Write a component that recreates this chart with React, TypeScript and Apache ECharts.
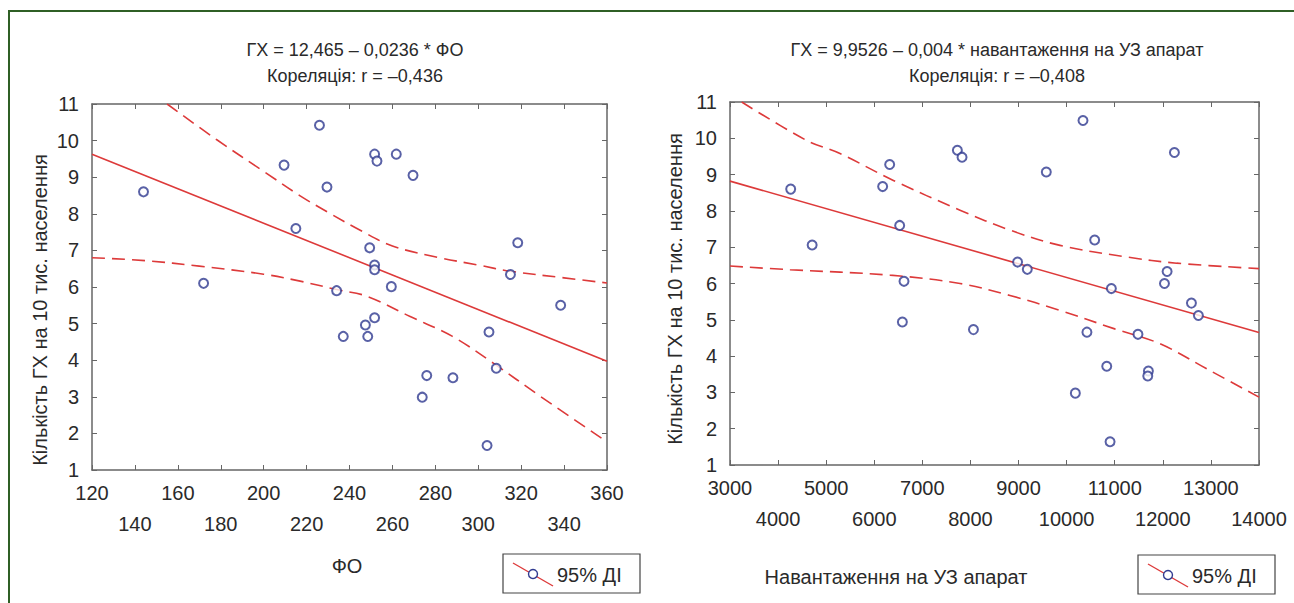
import React, { useEffect, useRef } from "react";
import * as echarts from "echarts";

// ---- Left chart: ФО ----
const foX = [144, 172, 209.5, 215, 226, 229.5, 251.7, 252.8, 261.8, 269.6, 249.4, 251.7, 251.7, 234, 259.5, 318.4, 315, 338.4, 305, 251.7, 247.4, 237.1, 248.5, 308.4, 276, 288.2, 273.9, 304.1];
const foY = [8.6, 6.1, 9.33, 7.6, 10.42, 8.73, 9.63, 9.44, 9.63, 9.05, 7.07, 6.6, 6.47, 5.9, 6.01, 7.21, 6.34, 5.5, 4.77, 5.16, 4.96, 4.65, 4.65, 3.78, 3.58, 3.52, 2.99, 1.67];
const foFit = [[120, 9.63], [360, 3.97]];
const foUpper = [[155, 11], [178, 10.03], [201, 9.12], [217, 8.49], [230, 8.04], [245, 7.55], [260, 7.12], [282, 6.8], [300, 6.6], [315, 6.43], [340, 6.25], [360, 6.11]];
const foLower = [[120, 6.8], [145, 6.72], [170, 6.57], [200, 6.35], [217, 6.16], [234, 5.93], [248, 5.75], [268, 5.2], [288, 4.65], [307, 3.92], [329, 3.01], [358, 1.85]];

// ---- Right chart: навантаження на УЗ апарат ----
const uzX = [4262, 4708, 6174, 6320, 6528, 6618, 6584, 7728, 7825, 10340, 12241, 9577, 10583, 8980, 9182, 10930, 12089, 12034, 12595, 12740, 8062, 10422, 11483, 10834, 11700, 11687, 10181, 10903];
const uzY = [8.6, 7.06, 8.67, 9.28, 7.6, 6.06, 4.94, 9.67, 9.48, 10.49, 9.61, 9.07, 7.2, 6.59, 6.39, 5.86, 6.33, 6.0, 5.46, 5.12, 4.73, 4.66, 4.6, 3.72, 3.59, 3.45, 2.98, 1.64];
const uzFit = [[3000, 8.82], [14000, 4.65]];
const uzUpper = [[3243, 11], [4595, 9.94], [5287, 9.58], [6397, 8.84], [7783, 8.02], [8822, 7.47], [9862, 7.05], [11248, 6.73], [12288, 6.56], [14000, 6.41]];
const uzLower = [[3000, 6.48], [4248, 6.38], [6327, 6.23], [7783, 6.0], [8822, 5.67], [9862, 5.26], [11000, 4.75], [11942, 4.34], [12981, 3.6], [14000, 2.87]];

// ---- Axis ranges / texts ----
const foAxis = { min: 120, max: 360, interval: 20 };
const uzAxis = { min: 3000, max: 14000, interval: 1000 };
const yAxisRange = { min: 1, max: 11, interval: 1 };
const leftTitle = "ГХ = 12,465 – 0,0236 * ФО\nКореляція: r = –0,436";
const rightTitle = "ГХ = 9,9526 – 0,004 * навантаження на УЗ апарат\nКореляція: r = –0,408";
const yName = "Кількість ГХ на 10 тис. населення";
const leftXName = "ФО";
const rightXName = "Навантаження на УЗ апарат";
const legendText = "95% ДІ";

const FONT = "'Liberation Sans Narrow', 'Arial Narrow', 'Liberation Sans', sans-serif";
const TXT = "#2a2a2a";
const RED = "#dd3a3a";
const BLUE = "#2f3a90";
const AXC = "#666";

function zip(xs: number[], ys: number[]) {
  return xs.map((x, i) => [x, ys[i]]);
}

export default function App() {
  const ref = useRef<HTMLDivElement>(null);
  useEffect(() => {
    if (!ref.current) return;
    const chart = echarts.init(ref.current, null, { renderer: "svg" });

    const grids = [
      { left: 92, top: 104, width: 515, height: 366 },
      { left: 730, top: 102, width: 529, height: 363 },
    ];
    const xr = [foAxis, uzAxis];

    const xAxes: any[] = [];
    const yAxes: any[] = [];
    [0, 1].forEach((g) => {
      // main bottom axis: even-index labels (first row)
      xAxes.push({
        type: "value", gridIndex: g, ...xr[g], position: "bottom",
        axisLine: { show: true, lineStyle: { color: AXC, width: 1.5 } },
        axisTick: { show: true, inside: true, length: 5, lineStyle: { color: AXC } },
        splitLine: { show: false },
        axisLabel: {
          margin: 13, fontSize: 20, lineHeight: 20, color: TXT, fontFamily: FONT,
          showMinLabel: true, showMaxLabel: true, hideOverlap: false,
          formatter: (v: number, i: number) => (i % 2 === 0 ? String(v) : ""),
        },
      });
      // top frame axis
      xAxes.push({
        type: "value", gridIndex: g, ...xr[g], position: "top",
        axisLine: { show: true, lineStyle: { color: AXC, width: 1.5 } },
        axisTick: { show: true, inside: true, length: 5, lineStyle: { color: AXC } },
        splitLine: { show: false }, axisLabel: { show: false },
      });
      // second-row labels (odd index)
      xAxes.push({
        type: "value", gridIndex: g, ...xr[g], position: "bottom", offset: 31,
        axisLine: { show: false }, axisTick: { show: false }, splitLine: { show: false },
        axisLabel: {
          margin: 13, fontSize: 20, lineHeight: 20, color: TXT, fontFamily: FONT,
          showMinLabel: true, showMaxLabel: true, hideOverlap: false,
          formatter: (v: number, i: number) => (i % 2 === 1 ? String(v) : ""),
        },
      });
      yAxes.push({
        type: "value", gridIndex: g, ...yAxisRange, position: "left",
        axisLine: { show: true, lineStyle: { color: AXC, width: 1.5 } },
        axisTick: { show: true, inside: true, length: 5, lineStyle: { color: AXC } },
        splitLine: { show: false },
        axisLabel: { margin: 13, fontSize: 20, lineHeight: 18, color: TXT, fontFamily: FONT, showMinLabel: true, showMaxLabel: true },
      });
      yAxes.push({
        type: "value", gridIndex: g, ...yAxisRange, position: "right",
        axisLine: { show: true, lineStyle: { color: AXC, width: 1.5 } },
        axisTick: { show: true, inside: true, length: 5, lineStyle: { color: AXC } },
        splitLine: { show: false }, axisLabel: { show: false },
      });
    });

    const scatter = (g: number, data: number[][]) => ({
      type: "scatter", xAxisIndex: g * 3, yAxisIndex: g * 2, data,
      symbol: "emptyCircle", symbolSize: 9,
      itemStyle: { color: BLUE, borderColor: BLUE, borderWidth: 1.3 }, z: 5,
    });
    const line = (g: number, data: number[][], dashed: boolean) => ({
      type: "line", xAxisIndex: g * 3, yAxisIndex: g * 2, data,
      showSymbol: false, symbol: "none", smooth: dashed ? 0.35 : false, clip: true,
      lineStyle: { color: RED, width: 1.6, type: dashed ? [13, 7] : "solid" }, z: 3,
    });

    const legendGfx = (bx: number, by: number) => ({
      type: "group",
      children: [
        { type: "rect", shape: { x: bx, y: by, width: 137, height: 39 }, style: { fill: "#fff", stroke: "#444", lineWidth: 1.2 } },
        { type: "line", shape: { x1: bx + 10, y1: by + 9, x2: bx + 50, y2: by + 32 }, style: { stroke: RED, lineWidth: 1.4 } },
        { type: "circle", shape: { cx: bx + 30, cy: by + 20, r: 4.5 }, style: { fill: "#fff", stroke: BLUE, lineWidth: 1.4 } },
        { type: "text", x: bx + 54, y: by + 21, style: { text: legendText, fontSize: 20, fontFamily: FONT, fill: TXT, verticalAlign: "middle", align: "left" } },
      ],
    });

    const option: any = {
      animation: false,
      backgroundColor: "#fff",
      title: [
        { text: leftTitle, left: 350, top: 32, textAlign: "center", textStyle: { fontSize: 18, lineHeight: 26, fontWeight: "normal", color: TXT, fontFamily: FONT } },
        { text: rightTitle, left: 992, top: 32, textAlign: "center", textStyle: { fontSize: 18, lineHeight: 26, fontWeight: "normal", color: TXT, fontFamily: FONT } },
      ],
      grid: grids,
      xAxis: xAxes,
      yAxis: yAxes,
      series: [
        line(0, foFit, false),
        line(0, foUpper, true),
        line(0, foLower, true),
        scatter(0, zip(foX, foY)),
        line(1, uzFit, false),
        line(1, uzUpper, true),
        line(1, uzLower, true),
        scatter(1, zip(uzX, uzY)),
      ],
      graphic: [
        { type: "rect", shape: { x: 9, y: 11, width: 1400, height: 700 }, style: { fill: "none", stroke: "#2f5f25", lineWidth: 2 }, z: 100 },
        { type: "text", x: 40, y: 310, rotation: Math.PI / 2, style: { text: yName, fontSize: 20, fontFamily: FONT, fill: TXT, align: "center", verticalAlign: "middle" } },
        { type: "text", x: 675, y: 289, rotation: Math.PI / 2, style: { text: yName, fontSize: 20, fontFamily: FONT, fill: TXT, align: "center", verticalAlign: "middle" } },
        { type: "text", x: 347, y: 566, style: { text: leftXName, fontSize: 20, fontFamily: FONT, fill: TXT, align: "center", verticalAlign: "middle" } },
        { type: "text", x: 896, y: 577, style: { text: rightXName, fontSize: 20, fontFamily: FONT, fill: TXT, align: "center", verticalAlign: "middle" } },
        legendGfx(503, 554),
        legendGfx(1138, 555),
      ],
    };
    chart.setOption(option);
    return () => chart.dispose();
  }, []);

  return (
    <div
      ref={ref}
      style={{ position: "fixed", left: 0, top: 0, width: 1294, height: 603, background: "#fff" }}
    />
  );
}
